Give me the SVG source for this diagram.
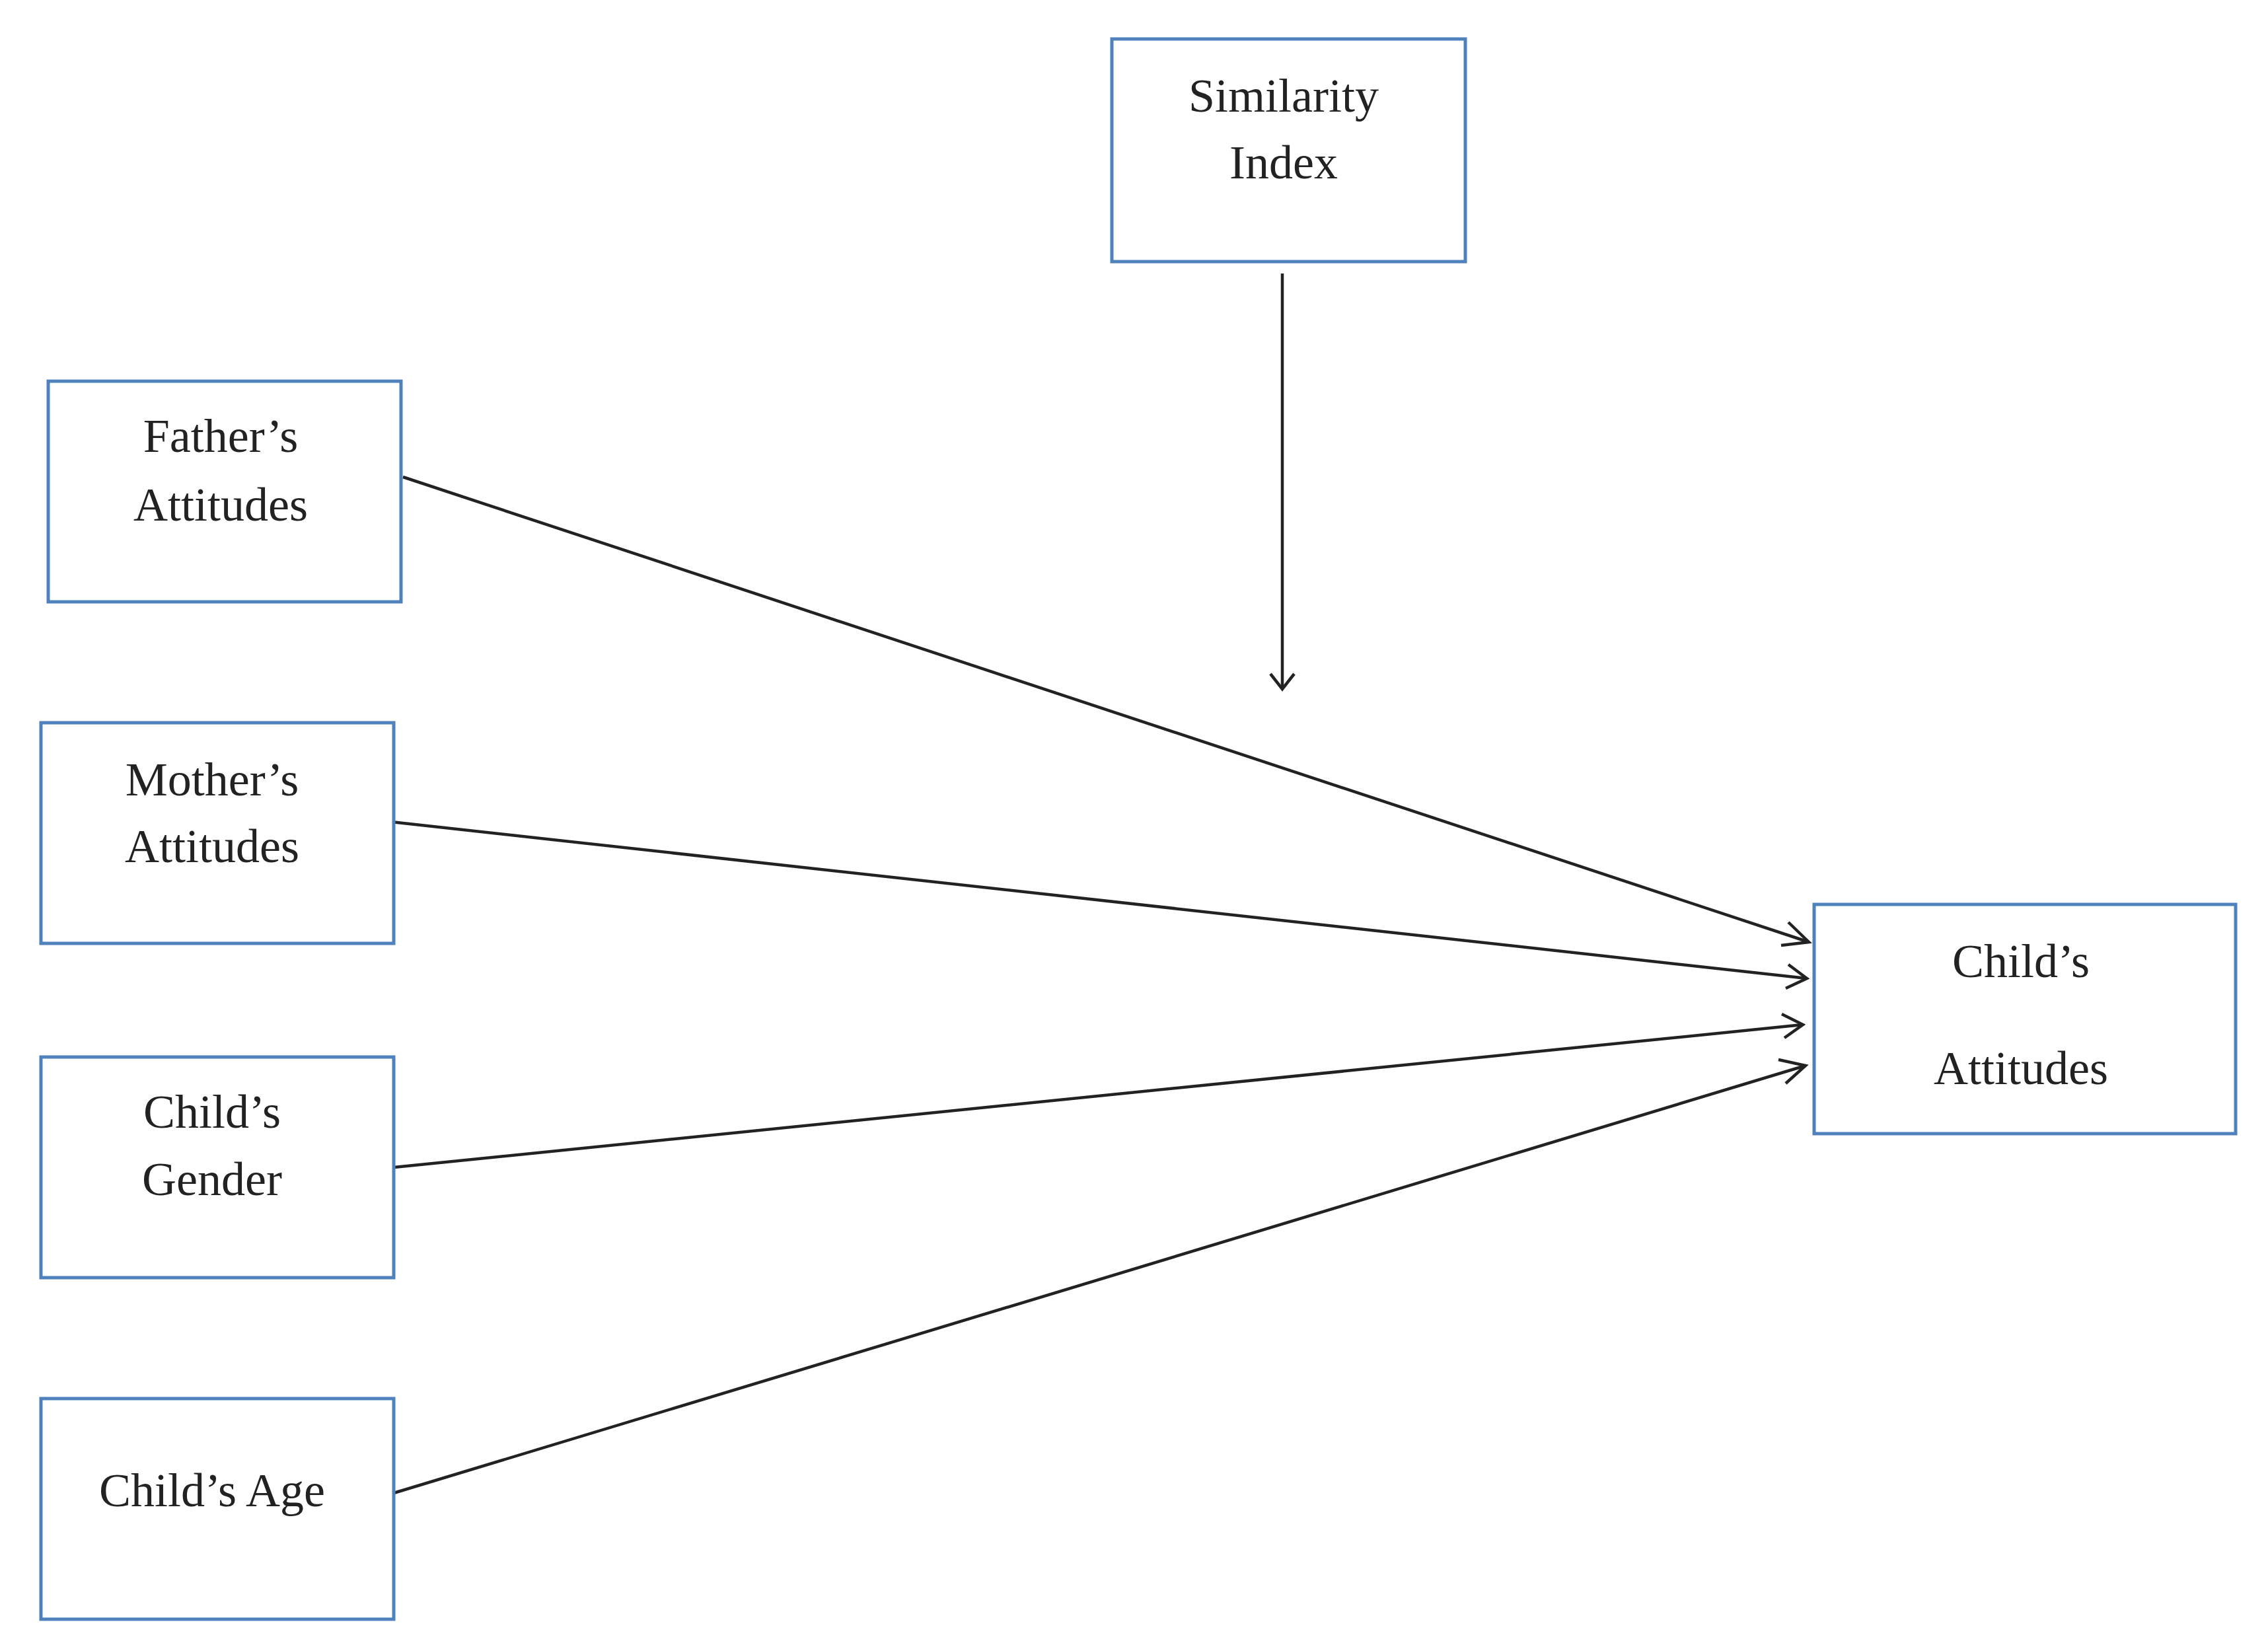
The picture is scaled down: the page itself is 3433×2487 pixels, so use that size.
<svg xmlns="http://www.w3.org/2000/svg" width="3433" height="2487" viewBox="0 0 3433 2487">
<style>
.box{fill:#fff;stroke:#4F81BD;stroke-width:5}
.t{font-family:"Liberation Serif","DejaVu Serif",serif;font-size:72px;fill:#222;text-anchor:middle;dominant-baseline:central}
.c{stroke:#222;stroke-width:4.5;fill:none;marker-end:url(#ah)}
</style>
<defs>
<marker id="ah" markerWidth="12" markerHeight="12" refX="10" refY="6" orient="auto" markerUnits="userSpaceOnUse" viewBox="0 0 12 12">
<path d="M0,0 L10,6 L0,12" fill="none" stroke="#222" stroke-width="2"/>
</marker>
</defs>
<marker id="unused"/>
<rect width="3433" height="2487" fill="#fff"/>
<g id="connectors">
<line class="c" x1="1941" y1="414" x2="1941" y2="1043" style="marker-end:none"/>
<path d="M1923,1020 L1941,1043 L1959,1020" fill="none" stroke="#222" stroke-width="4.5"/>
<line x1="610" y1="722" x2="2738" y2="1426" stroke="#222" stroke-width="4.5"/>
<line x1="583" y1="1243" x2="2735" y2="1481" stroke="#222" stroke-width="4.5"/>
<line x1="596" y1="1767" x2="2729" y2="1551" stroke="#222" stroke-width="4.5"/>
<line x1="596" y1="2260" x2="2733" y2="1613" stroke="#222" stroke-width="4.5"/>
<path d="M2707,1396 L2738,1426 L2696,1431" fill="none" stroke="#222" stroke-width="4.5"/>
<path d="M2707,1460 L2735,1481 L2703,1496" fill="none" stroke="#222" stroke-width="4.5"/>
<path d="M2697,1535 L2729,1551 L2701,1571" fill="none" stroke="#222" stroke-width="4.5"/>
<path d="M2692,1604 L2733,1613 L2703,1640" fill="none" stroke="#222" stroke-width="4.5"/>
</g>
<g id="similarity"><rect class="box" x="1683" y="59" width="535" height="337"/><text class="t" x="1943" y="145">Similarity</text><text class="t" x="1943" y="246">Index</text></g>
<g id="father"><rect class="box" x="73" y="577" width="534" height="334"/><text class="t" x="334" y="660">Father’s</text><text class="t" x="334" y="764">Attitudes</text></g>
<g id="mother"><rect class="box" x="62" y="1094" width="534" height="334"/><text class="t" x="321" y="1180">Mother’s</text><text class="t" x="321" y="1281">Attitudes</text></g>
<g id="gender"><rect class="box" x="62" y="1600" width="534" height="334"/><text class="t" x="321" y="1683">Child’s</text><text class="t" x="321" y="1785">Gender</text></g>
<g id="age"><rect class="box" x="62" y="2117" width="534" height="334"/><text class="t" x="321" y="2256">Child’s Age</text></g>
<g id="child"><rect class="box" x="2746" y="1369" width="638" height="347"/><text class="t" x="3059" y="1455">Child’s</text><text class="t" x="3059" y="1617">Attitudes</text></g>
</svg>
